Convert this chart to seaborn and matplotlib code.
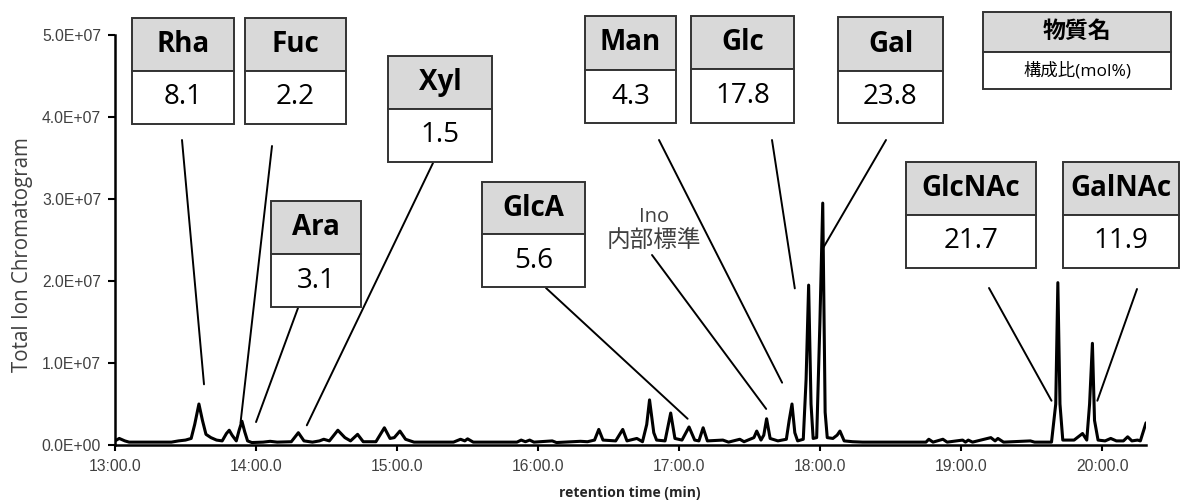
import numpy as np
import pandas as pd
import matplotlib
matplotlib.use("Agg")
import matplotlib.pyplot as plt
import seaborn as sns
from matplotlib.patches import Rectangle
from matplotlib.ticker import FuncFormatter, FixedLocator

# ---------------- data ----------------
# retention time (min) and total ion chromatogram intensity (x1e6 counts)
rt_min = [
    13.00, 13.03, 13.07, 13.10, 13.40, 13.45, 13.50, 13.54, 13.565, 13.595,
    13.62, 13.645, 13.68, 13.72, 13.76, 13.79, 13.81, 13.83, 13.86, 13.88,
    13.90, 13.92, 13.94, 13.97, 14.05, 14.10, 14.15, 14.25, 14.30, 14.34,
    14.40, 14.45, 14.48, 14.52, 14.58, 14.63, 14.67, 14.72, 14.76, 14.85,
    14.91, 14.95, 14.98, 15.02, 15.06, 15.12, 15.40, 15.45, 15.48, 15.50,
    15.54, 15.85, 15.88, 15.91, 15.94, 15.97, 16.10, 16.13, 16.30, 16.35,
    16.40, 16.43, 16.46, 16.55, 16.60, 16.63, 16.70, 16.74, 16.77, 16.79,
    16.82, 16.84, 16.90, 16.94, 16.97, 17.02, 17.07, 17.11, 17.14, 17.17,
    17.20, 17.31, 17.35, 17.43, 17.46, 17.53, 17.55, 17.58, 17.60, 17.62,
    17.645, 17.70, 17.76, 17.78, 17.80, 17.82, 17.84, 17.88, 17.90, 17.918,
    17.935, 17.95, 17.975, 17.998, 18.018, 18.035, 18.05, 18.09, 18.12, 18.14,
    18.17, 18.23, 18.30, 18.75, 18.77, 18.80, 18.87, 18.90, 19.01, 19.03,
    19.05, 19.08, 19.21, 19.24, 19.26, 19.30, 19.49, 19.52, 19.64, 19.67,
    19.685, 19.70, 19.72, 19.80, 19.86, 19.89, 19.91, 19.93, 19.945, 19.97,
    20.02, 20.06, 20.10, 20.15, 20.18, 20.21, 20.25, 20.27, 20.31,
]
tic_millions = [
    0.5, 0.8, 0.5, 0.35, 0.35, 0.5, 0.6, 0.8, 2.5, 5.0,
    3.0, 1.3, 0.9, 0.6, 0.5, 1.4, 1.8, 1.2, 0.5, 1.8,
    2.9, 1.6, 0.5, 0.3, 0.35, 0.45, 0.35, 0.4, 1.5, 0.5,
    0.35, 0.5, 0.7, 0.5, 1.8, 0.9, 0.5, 1.3, 0.4, 0.4,
    2.1, 0.8, 0.9, 1.7, 0.7, 0.35, 0.35, 0.7, 0.5, 0.75,
    0.35, 0.35, 0.6, 0.4, 0.6, 0.35, 0.5, 0.3, 0.45, 0.4,
    0.6, 1.9, 0.6, 0.5, 1.9, 0.5, 0.8, 0.4, 2.5, 5.5,
    1.5, 0.6, 0.5, 3.9, 0.8, 0.6, 2.2, 0.6, 0.5, 2.1,
    0.5, 0.6, 0.35, 0.7, 0.4, 0.9, 1.7, 0.6, 1.2, 3.2,
    0.8, 0.5, 0.7, 3.0, 5.0, 1.5, 0.5, 0.7, 8.0, 19.5,
    5.0, 0.8, 0.9, 15.0, 29.5, 4.0, 0.9, 0.8, 1.2, 1.7,
    0.5, 0.4, 0.35, 0.35, 0.7, 0.35, 0.7, 0.35, 0.6, 0.35,
    0.6, 0.35, 0.9, 0.5, 0.8, 0.35, 0.5, 0.35, 0.35, 5.0,
    19.8, 5.0, 0.6, 0.6, 1.4, 0.6, 5.0, 12.4, 3.0, 0.6,
    0.5, 0.8, 0.5, 0.5, 1.0, 0.5, 0.6, 0.5, 2.7,
]

# annotation content
sugar_names = ["Rha", "Fuc", "Ara", "Xyl", "GlcA", "Man", "Glc", "Gal", "GlcNAc", "GalNAc"]
mol_percent = ["8.1", "2.2", "3.1", "1.5", "5.6", "4.3", "17.8", "23.8", "21.7", "11.9"]
# peak points the leader lines point to (retention time, intensity x1e6)
peak_rt = [13.631, 13.89, 14.00, 14.36, 17.06, 17.73, 17.82, 18.02, 19.64, 19.965]
peak_tic = [7.4, 2.7, 2.8, 2.4, 3.2, 7.6, 19.1, 24.0, 5.4, 5.4]
legend_header = "物質名"
legend_value = "構成比(mol%)"
is_label = ["Ino", "内部標準"]
is_rt, is_tic = 17.617, 4.4
y_ticks = [0, 1e7, 2e7, 3e7, 4e7, 5e7]
x_ticks = [13, 14, 15, 16, 17, 18, 19, 20]

# ---------------- layout (figure pixels) ----------------
W, H = 1184, 501
# (left, top, mid, right, bottom) for each box
box_px = [
    (132, 18, 71, 234, 124), (245, 18, 71, 346, 124), (271, 201, 254, 361, 307),
    (388, 56, 109, 492, 162), (482, 182, 234, 585, 287), (585, 16, 70, 676, 123),
    (691, 16, 69, 794, 123), (838, 17, 71, 943, 123), (906, 162, 215, 1036, 268),
    (1063, 162, 215, 1179, 268),
]
line_start_px = [
    (182, 140), (272, 146), (298, 308), (433, 163), (546, 288), (659, 140),
    (772, 140), (886, 140), (989, 288), (1137, 289),
]

sns.set_style("ticks")
plt.rcParams["font.family"] = ["Open Sans", "Noto Sans CJK JP", "DejaVu Sans"]

fig = plt.figure(figsize=(W / 100, H / 100), dpi=100)
ax = fig.add_axes([115 / W, 1 - 445 / H, (1146 - 115) / W, (445 - 35) / H])

df = pd.DataFrame({"rt": rt_min, "tic": np.array(tic_millions) * 1e6})
sns.lineplot(data=df, x="rt", y="tic", ax=ax, color="black", lw=2.2,
             estimator=None, sort=False)

ax.set_xlim(13.0, 20.31)
ax.set_ylim(0, 5e7)
sns.despine(ax=ax)
for s in ("left", "bottom"):
    ax.spines[s].set_linewidth(1.8)
    ax.spines[s].set_color("black")

ax.yaxis.set_major_locator(FixedLocator(y_ticks))
ax.xaxis.set_major_locator(FixedLocator(x_ticks))
ax.yaxis.set_major_formatter(FuncFormatter(lambda v, p: f"{v:.1E}"))


def fmt_rt(v, p):
    m = int(v)
    return f"{m}:{(v - m) * 60:04.1f}"


ax.xaxis.set_major_formatter(FuncFormatter(fmt_rt))
ax.tick_params(axis="y", direction="out", length=5, width=1.5, pad=5,
               labelsize=11.3, labelcolor="#404040", color="black")
ax.tick_params(axis="x", direction="out", length=4, width=1.5, pad=6,
               labelsize=11.3, labelcolor="#404040", color="black")
for lab in ax.get_xticklabels() + ax.get_yticklabels():
    lab.set_fontfamily("Liberation Sans")

ax.set_ylabel("Total Ion Chromatogram", fontsize=14.8, color="#404040")
ax.yaxis.set_label_coords((23 - 115) / 1031, (445 - 255) / 410)
ax.yaxis.label.set_va("center")
ax.set_xlabel("retention time (min)", fontsize=10, fontweight="bold", color="#262626")
ax.xaxis.set_label_coords((630 - 115) / 1031, (445 - 493) / 410)
ax.xaxis.label.set_va("center")


def fx(x):
    return x / W


def fy(y):
    return 1 - y / H


def draw_box(l, t, m, r, b, head, val, hsize, vsize):
    ec = "#333333"
    fig.add_artist(Rectangle((fx(l), fy(m)), fx(r) - fx(l), fy(t) - fy(m),
                             transform=fig.transFigure, facecolor="#d9d9d9",
                             edgecolor=ec, lw=1.4))
    fig.add_artist(Rectangle((fx(l), fy(b)), fx(r) - fx(l), fy(m) - fy(b),
                             transform=fig.transFigure, facecolor="white",
                             edgecolor=ec, lw=1.4))
    fig.text(fx((l + r) / 2), fy((t + m) / 2), head, ha="center", va="center",
             fontsize=hsize, fontweight="bold", color="black")
    fig.text(fx((l + r) / 2), fy((m + b) / 2), val, ha="center", va="center",
             fontsize=vsize, color="black")


for name, val, bx, (sx, sy), prt, ptic in zip(sugar_names, mol_percent, box_px,
                                            line_start_px, peak_rt, peak_tic):
    ax.annotate("", xy=(prt, ptic * 1e6), xycoords="data",
                xytext=(fx(sx), fy(sy)), textcoords="figure fraction",
                arrowprops=dict(arrowstyle="-", color="black", lw=1.4,
                                shrinkA=0, shrinkB=0),
                annotation_clip=False)
    draw_box(*bx, name, val, 20, 20)

# legend-like key box
draw_box(983, 12, 52, 1171, 89, legend_header, legend_value, 16.5, 12.5)

# internal standard
fig.text(fx(654), fy(217), is_label[0], ha="center", va="center", fontsize=14.5, color="#404040")
fig.text(fx(654), fy(241), is_label[1], ha="center", va="center", fontsize=17, color="#404040")
ax.annotate("", xy=(is_rt, is_tic * 1e6), xycoords="data",
            xytext=(fx(652), fy(255)), textcoords="figure fraction",
            arrowprops=dict(arrowstyle="-", color="black", lw=1.4, shrinkA=0, shrinkB=0))

fig.savefig("out.png", dpi=100)
